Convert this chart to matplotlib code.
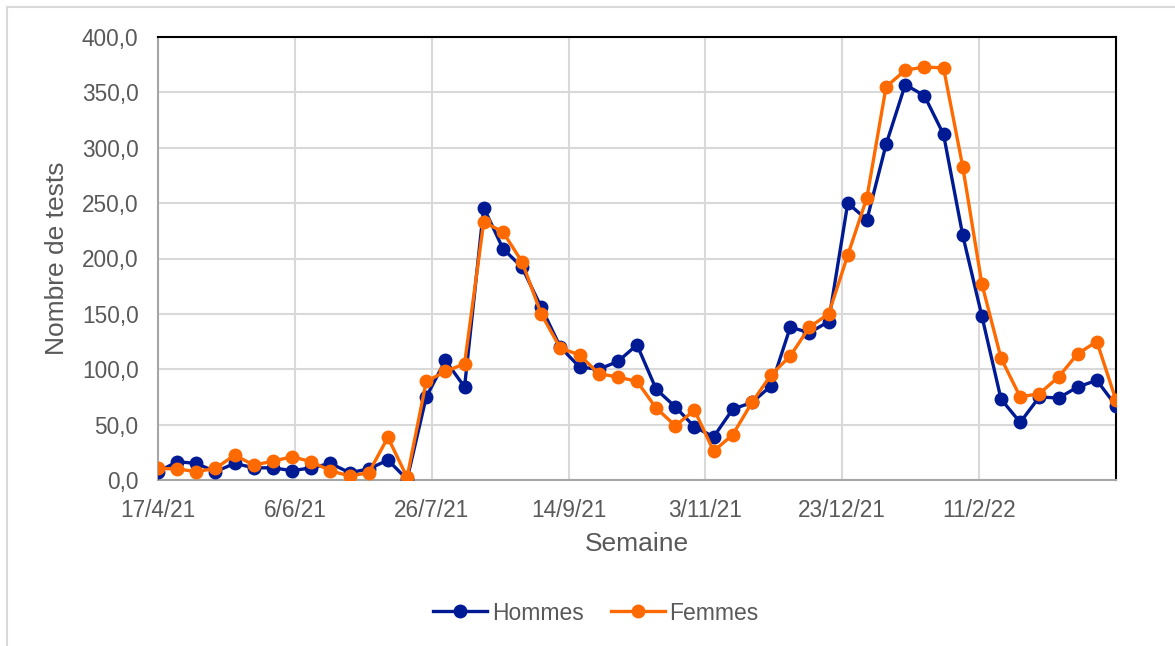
import pandas as pd
import matplotlib
matplotlib.use('Agg')
import matplotlib.pyplot as plt
import matplotlib.dates as mdates
from matplotlib.ticker import FuncFormatter, MultipleLocator
from matplotlib.lines import Line2D

# weekly test counts, starting the week of 17/4/21
weeks = pd.date_range('2021-04-17', periods=51, freq='7D')

hommes = [7.5, 16.5, 15, 7.5, 15, 11, 11, 8.4, 11, 15,
          6.6, 10, 18, 0.6, 75, 108, 84, 246, 209, 192,
          156, 120, 102, 100, 107, 122, 82, 66, 48, 39,
          64, 70, 85, 138, 133, 143, 250, 235, 303, 357,
          347, 312, 221, 148, 73, 52, 75, 74, 84, 90,
          67]

femmes = [10.5, 10, 7.5, 10.5, 22.5, 13.5, 17, 21, 16.5, 8.4,
          3.6, 6.6, 38.5, 2.4, 89, 98, 105, 233, 224, 197,
          150, 119, 113, 96, 93, 89, 65, 49, 63, 26,
          41, 70, 95, 112, 138, 150, 203, 255, 355, 370,
          373, 372, 283, 177, 110, 75, 78, 93, 114, 125,
          72]

tick_dates = pd.date_range('2021-04-17', periods=7, freq='50D')

text_color = '#595959'
grid_color = '#d9d9d9'
font = 'Liberation Sans'

fig = plt.figure(figsize=(11.75, 6.46), dpi=100)
ax = fig.add_axes([158 / 1175, 1 - 480 / 646, (1116 - 158) / 1175, (480 - 37) / 646])

ax.plot(weeks, hommes, color='#001a94', lw=2.4, marker='o', ms=9, label='Hommes', zorder=3)
ax.plot(weeks, femmes, color='#ff6a00', lw=2.4, marker='o', ms=9, label='Femmes', zorder=4)

ax.set_xlim(weeks[0], weeks[-1])
ax.set_ylim(0, 400)
ax.yaxis.set_major_locator(MultipleLocator(50))
ax.yaxis.set_major_formatter(FuncFormatter(lambda v, p: f'{v:.1f}'.replace('.', ',')))
ax.set_xticks(tick_dates)
ax.xaxis.set_major_formatter(FuncFormatter(
    lambda v, p: (lambda d: f'{d.day}/{d.month}/{d.year % 100}')(mdates.num2date(v))))

ax.grid(True, color=grid_color, lw=1.5, zorder=0)
ax.set_axisbelow(True)
ax.tick_params(length=0, labelsize=16.3, labelcolor=text_color)
ax.tick_params(axis='y', pad=14)
ax.tick_params(axis='x', pad=14)
for lab in ax.get_xticklabels() + ax.get_yticklabels():
    lab.set_family(font)

for side in ['left', 'bottom']:
    ax.spines[side].set_color('#a6a6a6')
    ax.spines[side].set_linewidth(1.5)
for side in ['top', 'right']:
    ax.spines[side].set_color('black')
    ax.spines[side].set_linewidth(1.5)

ax.set_xlabel('Semaine', fontsize=19, color=text_color, family=font, va='center')
ax.xaxis.set_label_coords(0.5, (480 - 544) / 443)
ax.set_ylabel('Nombre de tests', fontsize=19, color=text_color, family=font, va='center')
ax.yaxis.set_label_coords((57 - 158) / 958, 0.5)

leg = fig.legend(loc='center', bbox_to_anchor=(596 / 1175, 1 - 613 / 646), ncol=2,
                 frameon=False, handlelength=2.35, handletextpad=0.2, columnspacing=1.2,
                 prop={'family': font, 'size': 16.5})
for t in leg.get_texts():
    t.set_color(text_color)

# chart area border
fig.add_artist(Line2D([7 / 1175, 1], [1 - 7 / 646, 1 - 7 / 646], color=grid_color, lw=1.5))
fig.add_artist(Line2D([7 / 1175, 7 / 1175], [0, 1 - 7 / 646], color=grid_color, lw=1.5))

fig.savefig('out.png', dpi=100)
